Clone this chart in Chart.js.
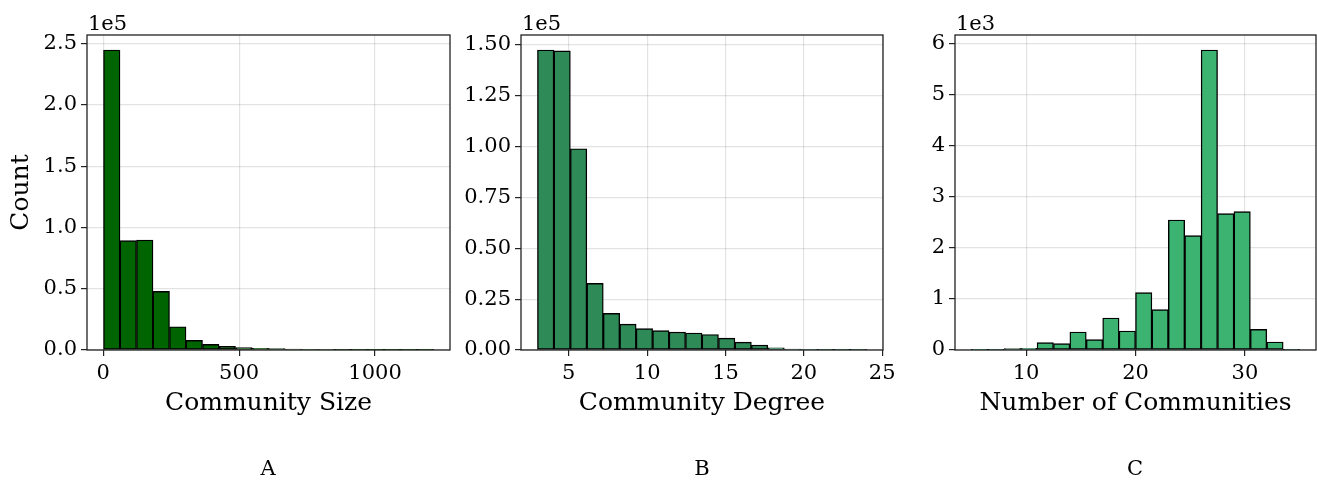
<!DOCTYPE html>
<html>
<head>
<meta charset="utf-8">
<script src="https://cdn.jsdelivr.net/npm/chart.js@4/dist/chart.umd.min.js"></script>
<style>
  html, body { margin: 0; padding: 0; background: #fff; }
  #wrap { position: relative; width: 1317px; height: 482px; overflow: hidden; }
  canvas { position: absolute; left: 0; top: 0; }
  .panel { position: absolute; top: 456px; font-family: 'DejaVu Serif', serif; font-size: 21px; color: #000; width: 40px; text-align: center; }
</style>
</head>
<body>
<div id="wrap">
  <canvas id="cA" width="1317" height="482"></canvas>
  <canvas id="cB" width="1317" height="482"></canvas>
  <canvas id="cC" width="1317" height="482"></canvas>
  <div class="panel" style="left:248px">A</div>
  <div class="panel" style="left:682px">B</div>
  <div class="panel" style="left:1115px">C</div>
</div>
<script>
// ---- Panel A: Community Size ----
const binStartA = 1, binWidthA = 60.7;
const countsA = [244900, 89300, 89800, 47900, 19000, 7900, 4600, 3000, 1900, 1400,
                 1100, 800, 500, 400, 300, 200, 150, 100, 80, 50];
const xTicksA = [0, 500, 1000];
const yTickLabelsA = ['0.0', '0.5', '1.0', '1.5', '2.0', '2.5'];

// ---- Panel B: Community Degree ----
const binStartB = 3, binWidthB = 1.05;
const countsB = [147400, 147000, 98900, 32700, 18000, 12700, 10500, 9500, 8800, 8350,
                 7600, 5800, 3850, 2400, 1050, 450, 250, 150, 60, 30];
const xTicksB = [5, 10, 15, 20, 25];
const yTickLabelsB = ['0.00', '0.25', '0.50', '0.75', '1.00', '1.25', '1.50'];

// ---- Panel C: Number of Communities ----
const binStartC = 5, binWidthC = 1.5;
const countsC = [5, 8, 26, 33, 143, 124, 352, 202, 626, 372,
                 1122, 789, 2544, 2237, 5871, 2668, 2707, 404, 157, 8];
const xTicksC = [10, 20, 30];
const yTickLabelsC = ['0', '1', '2', '3', '4', '5', '6'];

const FONT = "'DejaVu Serif', serif";

const framePlugin = {
  id: 'frame',
  afterDatasetsDraw(chart, args, opts) {
    const a = chart.chartArea, ctx = chart.ctx;
    ctx.save();
    ctx.strokeStyle = '#222';
    ctx.lineWidth = 1.3;
    ctx.strokeRect(a.left, a.top, a.right - a.left, a.bottom - a.top);
    ctx.fillStyle = '#000';
    ctx.font = '21px ' + FONT;
    ctx.textAlign = 'left';
    ctx.textBaseline = 'alphabetic';
    ctx.fillText(opts.text, a.left + 1, a.top - 5);
    ctx.restore();
  }
};

function makeChart(id, cfg) {
  const data = cfg.counts.map((c, i) => ({ x: cfg.start + (i + 0.5) * cfg.width, y: c }));
  const nBins = cfg.counts.length;
  const dataMin = cfg.start, dataMax = cfg.start + nBins * cfg.width;
  const margin = 0.05 * (dataMax - dataMin);
  new Chart(document.getElementById(id), {
    type: 'bar',
    data: {
      datasets: [{
        data: data,
        backgroundColor: cfg.color,
        borderColor: '#000',
        borderWidth: 1.4,
        borderSkipped: false,
        barPercentage: 1.0,
        categoryPercentage: 1.0
      }]
    },
    options: {
      responsive: false,
      animation: false,
      devicePixelRatio: 1,
      layout: { padding: { left: cfg.left - cfg.yW, right: 1317 - cfg.right, top: 35, bottom: 482 - 350 - 72 } },
      plugins: {
        legend: { display: false },
        tooltip: { enabled: false },
        frame: { text: cfg.offsetText }
      },
      scales: {
        x: {
          type: 'linear',
          offset: false,
          min: dataMin - margin,
          max: dataMax + margin,
          afterBuildTicks: (s) => { s.ticks = cfg.xTicks.map(v => ({ value: v })); },
          afterFit: (s) => { s.height = 72; },
          ticks: { font: { family: FONT, size: 21 }, color: '#000', padding: 5, maxRotation: 0,
                   callback: (v) => String(v) },
          grid: { color: 'rgba(0,0,0,0.11)', lineWidth: 1.2, tickColor: '#222', tickLength: 6, offset: false },
          border: { display: false },
          title: { display: true, text: cfg.xTitle, font: { family: FONT, size: 25 }, color: '#000',
                   padding: { top: 0, bottom: 4 } }
        },
        y: {
          min: 0,
          max: cfg.yMax,
          afterBuildTicks: (s) => { s.ticks = cfg.yLabels.map((t, i) => ({ value: i * cfg.yStep })); },
          afterFit: (s) => { s.width = cfg.yW; },
          ticks: { font: { family: FONT, size: 21 }, color: '#000', padding: 4,
                   callback: (v, i) => cfg.yLabels[i] },
          grid: { color: 'rgba(0,0,0,0.11)', lineWidth: 1.2, tickColor: '#222', tickLength: 6 },
          border: { display: false },
          title: { display: !!cfg.yTitle, text: cfg.yTitle || '', font: { family: FONT, size: 25 }, color: '#000',
                   padding: { top: 6, bottom: 0 } }
        }
      }
    },
    plugins: [framePlugin]
  });
}

makeChart('cA', {
  counts: countsA, start: binStartA, width: binWidthA, color: '#006400',
  xTicks: xTicksA, yLabels: yTickLabelsA, yStep: 50000, yMax: Math.max(...countsA) * 1.05,
  left: 87, right: 450, yW: 87, xTitle: 'Community Size', yTitle: 'Count', offsetText: '1e5'
});
makeChart('cB', {
  counts: countsB, start: binStartB, width: binWidthB, color: '#2E8B57',
  xTicks: xTicksB, yLabels: yTickLabelsB, yStep: 25000, yMax: Math.max(...countsB) * 1.05,
  left: 521, right: 883, yW: 70, xTitle: 'Community Degree', yTitle: '', offsetText: '1e5'
});
makeChart('cC', {
  counts: countsC, start: binStartC, width: binWidthC, color: '#3CB371',
  xTicks: xTicksC, yLabels: yTickLabelsC, yStep: 1000, yMax: Math.max(...countsC) * 1.05,
  left: 955, right: 1316, yW: 60, xTitle: 'Number of Communities', yTitle: '', offsetText: '1e3'
});
</script>
</body>
</html>
